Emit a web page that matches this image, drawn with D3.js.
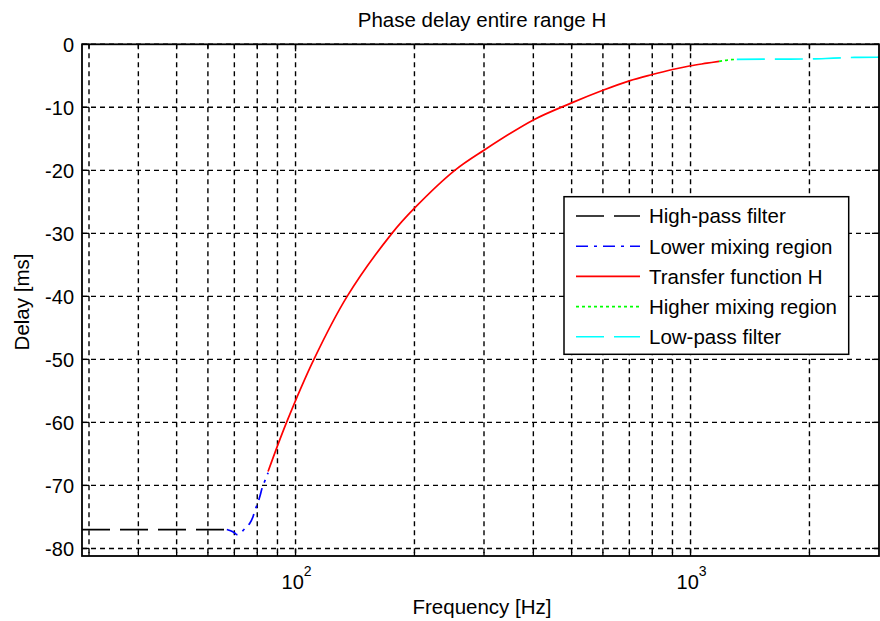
<!DOCTYPE html>
<html><head><meta charset="utf-8">
<script src="https://cdn.jsdelivr.net/npm/d3@7"></script>
<style>body{margin:0;background:#fff}svg{display:block;font-family:"Liberation Sans",Arial,sans-serif}</style>
</head><body><svg id="c" width="880" height="621"></svg>
<script>
// ---- data ----
const title = "Phase delay entire range H";
const xLabel = "Frequency [Hz]";
const yLabel = "Delay [ms]";
const xDomain = [28.8, 3000];
const yDomain = [-81.2, 0];
const yTicks = [0, -10, -20, -30, -40, -50, -60, -70, -80];
const xMajorTicks = [100, 1000];
const xMinorTicks = [30, 40, 50, 60, 70, 80, 90, 200, 300, 400, 500, 600, 700, 800, 900, 2000];

const highPassFreq = [28.8, 67];
const highPassDelay = [-77, -77];
const lowerMixFreq = [67, 68.5, 70, 71, 72, 73.5, 75, 76.6, 78, 79, 80, 81, 82.5, 84, 85.2];
const lowerMixDelay = [-77, -77.2, -77.5, -77.8, -77.7, -77.2, -76.6, -76, -75, -73.9, -73, -72, -70.2, -69, -68];
const transferFreq = [85.2, 94.9, 111.3, 135.1, 175.4, 200, 253, 300, 400, 500, 600, 700, 800, 900, 1000, 1100, 1181];
const transferDelay = [-67.8, -60, -50, -40, -30, -26.0, -20, -16.8, -12, -9.3, -7.3, -5.8, -4.8, -4.0, -3.4, -3.0, -2.7];
const higherMixFreq = [1181, 1240, 1310];
const higherMixDelay = [-2.7, -2.5, -2.38];
const lowPassFreq = [1310, 1600, 2000, 2300, 2600, 3000];
const lowPassDelay = [-2.38, -2.35, -2.33, -2.2, -2.08, -2.05];

const seriesNames = ["High-pass filter", "Lower mixing region", "Transfer function H", "Higher mixing region", "Low-pass filter"];
const seriesColors = ["#000000", "#0000ff", "#ff0000", "#00ff00", "#00ffff"];
const seriesDash = ["28,10", "12,6,3,6", null, "3,3", "28,10"];
const seriesFreq = [highPassFreq, lowerMixFreq, transferFreq, higherMixFreq, lowPassFreq];
const seriesDelay = [highPassDelay, lowerMixDelay, transferDelay, higherMixDelay, lowPassDelay];

// ---- chart ----
const svg = d3.select("#c");
const L = 82, R = 879, T = 44.3, B = 556;
const x = d3.scaleLog().domain(xDomain).range([L, R]);
const y = d3.scaleLinear().domain(yDomain).range([B, T]);

svg.append("rect").attr("width", 880).attr("height", 621).attr("fill", "#fff");

const grid = svg.append("g").attr("stroke", "#000").attr("stroke-width", 1.4).attr("stroke-dasharray", "5,4");
grid.selectAll("line.vx").data(xMinorTicks.concat(xMajorTicks)).join("line")
  .attr("x1", d => x(d)).attr("x2", d => x(d)).attr("y1", T).attr("y2", B);
grid.selectAll("line.hy").data(yTicks).join("line")
  .attr("y1", d => y(d)).attr("y2", d => y(d)).attr("x1", L).attr("x2", R);

// ticks
const tk = svg.append("g").attr("stroke", "#000").attr("stroke-width", 1.3);
xMajorTicks.forEach(v => {
  tk.append("line").attr("x1", x(v)).attr("x2", x(v)).attr("y1", B).attr("y2", B - 7);
  tk.append("line").attr("x1", x(v)).attr("x2", x(v)).attr("y1", T).attr("y2", T + 7);
});
xMinorTicks.forEach(v => {
  tk.append("line").attr("x1", x(v)).attr("x2", x(v)).attr("y1", B).attr("y2", B - 4);
  tk.append("line").attr("x1", x(v)).attr("x2", x(v)).attr("y1", T).attr("y2", T + 4);
});
yTicks.forEach(v => {
  tk.append("line").attr("x1", L).attr("x2", L + 7).attr("y1", y(v)).attr("y2", y(v));
  tk.append("line").attr("x1", R).attr("x2", R - 7).attr("y1", y(v)).attr("y2", y(v));
});

// data lines
svg.append("clipPath").attr("id", "clip").append("rect").attr("x", L).attr("y", T).attr("width", R - L).attr("height", B - T);
const dl = svg.append("g").attr("clip-path", "url(#clip)");
seriesNames.forEach((n, i) => {
  const pts = seriesFreq[i].map((f, j) => [f, seriesDelay[i][j]]);
  const line = d3.line().x(d => x(d[0])).y(d => y(d[1]))
    .curve(i === 2 ? d3.curveCatmullRom.alpha(0.5) : d3.curveMonotoneX);
  dl.append("path").attr("d", line(pts)).attr("fill", "none")
    .attr("stroke", seriesColors[i]).attr("stroke-width", 1.7)
    .attr("stroke-dasharray", seriesDash[i]);
});

// axes box
svg.append("rect").attr("x", L).attr("y", T).attr("width", R - L).attr("height", B - T)
  .attr("fill", "none").attr("stroke", "#000").attr("stroke-width", 1.8);

// tick labels
const fs = 20;
yTicks.forEach(v => {
  svg.append("text").attr("x", 74).attr("y", y(v)).attr("dy", "0.36em").attr("text-anchor", "end")
    .attr("font-size", fs).attr("fill", "#000").text(v === 0 ? "0" : "-" + Math.abs(v));
});
xMajorTicks.forEach(v => {
  const t = svg.append("text").attr("x", x(v) - 14).attr("y", 589).attr("font-size", fs).attr("fill", "#000");
  t.append("tspan").text("10");
  t.append("tspan").attr("dy", -13).attr("font-size", 14).text(String(Math.round(Math.log10(v))));
});

// titles
svg.append("text").attr("x", 482).attr("y", 26.5).attr("text-anchor", "middle").attr("font-size", 20.5).text(title);
svg.append("text").attr("x", 482).attr("y", 614).attr("text-anchor", "middle").attr("font-size", 20.5).text(xLabel);
svg.append("text").attr("transform", "translate(29,302) rotate(-90)").attr("text-anchor", "middle").attr("font-size", 20.5).text(yLabel);

// legend
const lg = svg.append("g");
lg.append("rect").attr("x", 564).attr("y", 196.7).attr("width", 284.7).attr("height", 157.6)
  .attr("fill", "#fff").attr("stroke", "#000").attr("stroke-width", 1.5);
seriesNames.forEach((n, i) => {
  const yy = 216 + i * 30.2;
  lg.append("line").attr("x1", 576).attr("x2", 640).attr("y1", yy).attr("y2", yy)
    .attr("stroke", seriesColors[i]).attr("stroke-width", 1.6).attr("stroke-dasharray", seriesDash[i]);
  lg.append("text").attr("x", 649).attr("y", yy).attr("dy", "0.36em").attr("font-size", 20.5).text(n);
});
</script></body></html>
